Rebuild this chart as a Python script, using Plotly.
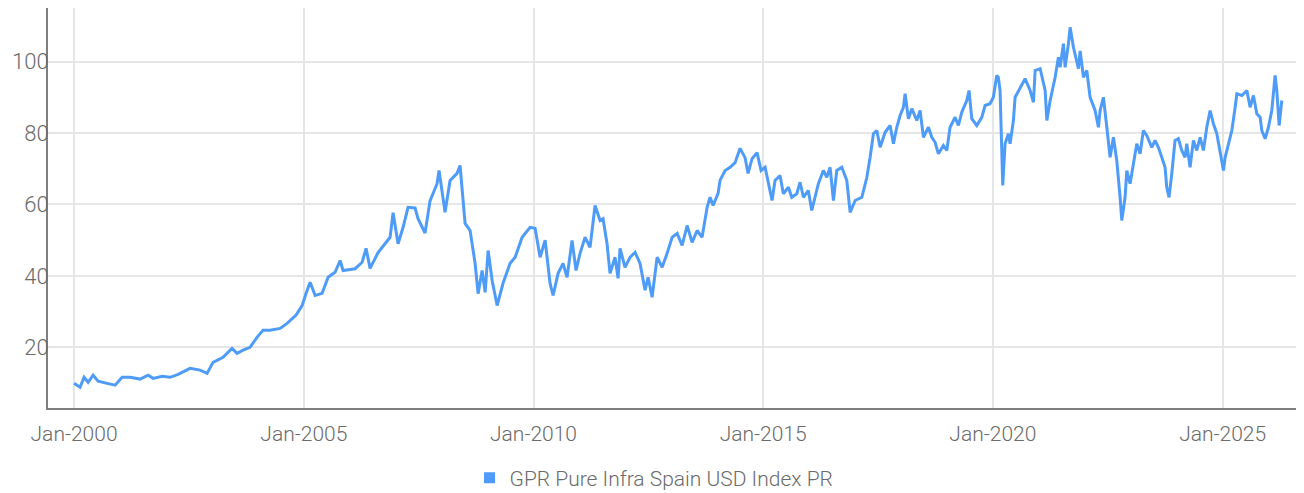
import pandas as pd
import plotly.graph_objects as go

# Decimal years (time) and index values
years_dec = [
    2000.000, 2000.131, 2000.218, 2000.305, 2000.414, 2000.522, 2000.718, 2000.892,
    2001.045, 2001.219, 2001.437, 2001.611, 2001.720, 2001.916,
    2002.090, 2002.264, 2002.525, 2002.743, 2002.895,
    2003.026, 2003.243, 2003.439, 2003.548, 2003.679, 2003.831, 2003.983,
    2004.114, 2004.266, 2004.484, 2004.636, 2004.832, 2004.963,
    2005.050, 2005.137, 2005.246, 2005.398, 2005.529, 2005.681, 2005.790, 2005.855,
    2006.117, 2006.269, 2006.356, 2006.443, 2006.617, 2006.879, 2006.944,
    2007.053, 2007.162, 2007.270, 2007.423, 2007.488, 2007.640, 2007.749, 2007.902, 2007.945,
    2008.076, 2008.185, 2008.337, 2008.402, 2008.511, 2008.620, 2008.729, 2008.794, 2008.881, 2008.947,
    2009.012, 2009.099, 2009.208, 2009.338, 2009.491, 2009.600, 2009.752, 2009.926,
    2010.035, 2010.144, 2010.253, 2010.361, 2010.427, 2010.536, 2010.644, 2010.731, 2010.840, 2010.927,
    2011.014, 2011.123, 2011.232, 2011.341, 2011.450, 2011.515, 2011.602, 2011.667, 2011.776, 2011.842, 2011.885, 2011.994,
    2012.103, 2012.212, 2012.320, 2012.429, 2012.495, 2012.582, 2012.691, 2012.800, 2012.908,
    2013.017, 2013.126, 2013.235, 2013.344, 2013.452, 2013.561, 2013.670, 2013.779, 2013.844, 2013.910,
    2014.018, 2014.062, 2014.171, 2014.280, 2014.388, 2014.497, 2014.606, 2014.671, 2014.758, 2014.867, 2014.955,
    2015.042, 2015.107, 2015.194, 2015.259, 2015.368, 2015.440, 2015.549, 2015.623, 2015.732, 2015.804, 2015.876, 2015.984,
    2016.058, 2016.202, 2016.311, 2016.385, 2016.457, 2016.529, 2016.602, 2016.711, 2016.820, 2016.892,
    2017.001, 2017.147, 2017.256, 2017.327, 2017.399, 2017.473, 2017.545, 2017.654, 2017.763, 2017.835, 2017.908, 2017.980,
    2018.052, 2018.089, 2018.161, 2018.235, 2018.344, 2018.416, 2018.488, 2018.597, 2018.671, 2018.742, 2018.814, 2018.923, 2018.997,
    2019.069, 2019.178, 2019.250, 2019.323, 2019.432, 2019.482, 2019.541, 2019.650, 2019.759, 2019.831, 2019.939,
    2020.011, 2020.085, 2020.120, 2020.157, 2020.194, 2020.216, 2020.266, 2020.338, 2020.375, 2020.447, 2020.484,
    2020.593, 2020.701, 2020.810, 2020.882, 2020.919,
    2021.028, 2021.137, 2021.174, 2021.246, 2021.354, 2021.426, 2021.463, 2021.535, 2021.572, 2021.644, 2021.681,
    2021.753, 2021.862, 2021.899, 2021.971,
    2022.044, 2022.116, 2022.225, 2022.297, 2022.334, 2022.406, 2022.480, 2022.552, 2022.624, 2022.697, 2022.769,
    2022.806, 2022.878, 2022.915, 2022.987,
    2023.059, 2023.133, 2023.205, 2023.276, 2023.350, 2023.459, 2023.531, 2023.603, 2023.677, 2023.749, 2023.786,
    2023.836, 2023.895, 2023.966,
    2024.039, 2024.112, 2024.184, 2024.221, 2024.293, 2024.365, 2024.439, 2024.511, 2024.583, 2024.656, 2024.728,
    2024.800, 2024.874, 2024.946,
    2025.018, 2025.055, 2025.127, 2025.201, 2025.273, 2025.310, 2025.419, 2025.528, 2025.599, 2025.671, 2025.745,
    2025.817, 2025.854, 2025.926, 2025.998,
    2026.071, 2026.143, 2026.180, 2026.231, 2026.289,
]

index_values = [
    9.9, 8.8, 11.6, 10.2, 12.2, 10.5, 9.9, 9.4,
    11.6, 11.6, 11.1, 12.2, 11.3, 11.9,
    11.6, 12.4, 14.1, 13.6, 12.7,
    15.8, 17.2, 19.7, 18.3, 19.2, 20.0, 22.8,
    24.8, 24.8, 25.3, 26.7, 29.0, 31.7,
    35.1, 38.2, 34.5, 35.1, 39.6, 41.0, 44.3, 41.5,
    42.0, 43.8, 47.7, 42.1, 46.5, 50.8, 57.7,
    49.0, 53.6, 59.2, 59.0, 56.0, 52.0, 61.0, 65.8, 69.5,
    57.8, 66.7, 68.7, 70.9, 54.7, 52.7, 43.5, 35.0, 41.5, 35.4,
    47.1, 38.7, 31.7, 38.0, 43.5, 45.2, 50.8, 53.6,
    53.3, 45.2, 50.0, 37.9, 34.5, 40.7, 43.5, 39.6, 49.9, 41.5,
    46.3, 50.8, 48.0, 59.7, 55.5, 56.0, 49.0, 40.7, 45.2, 39.3, 47.7, 42.4,
    45.2, 46.6, 43.5, 36.0, 39.6, 34.0, 45.2, 42.4, 46.3,
    50.8, 51.9, 48.5, 54.1, 49.4, 52.7, 50.8, 59.2, 62.0, 59.7,
    63.1, 66.8, 69.5, 70.4, 71.7, 75.7, 73.1, 68.7, 72.8, 74.5, 69.5,
    70.4, 66.8, 61.1, 66.7, 68.1, 63.0, 64.8, 62.0, 63.0, 66.2, 62.0, 63.9,
    58.3, 65.8, 69.5, 67.6, 70.4, 61.1, 69.5, 70.4, 66.7, 57.8,
    61.1, 62.0, 67.6, 73.2, 79.8, 80.7, 76.0, 80.2, 82.1, 77.0, 81.6, 84.9,
    87.2, 91.0, 84.0, 86.8, 83.5, 86.3, 78.8, 81.6, 78.8, 77.4, 74.2, 76.5, 75.1,
    81.6, 84.4, 82.1, 85.8, 89.1, 91.9, 84.0, 82.1, 84.4, 87.7, 88.2,
    90.0, 96.1, 95.6, 91.9, 77.0, 65.3, 77.0, 79.8, 77.0, 83.5, 90.0,
    92.8, 95.2, 91.9, 88.6, 97.5,
    98.0, 91.9, 83.5, 89.1, 95.6, 101.2, 98.4, 105.0, 98.4, 105.0, 109.6,
    104.0, 98.0, 103.0, 95.6,
    97.5, 90.0, 86.3, 81.6, 86.3, 90.0, 81.6, 73.2, 78.8, 72.3, 62.0,
    55.5, 62.0, 69.5, 65.8,
    71.4, 77.0, 74.2, 80.7, 79.3, 76.0, 77.9, 76.0, 73.2, 70.4, 64.8,
    62.0, 68.6, 77.9,
    78.4, 75.1, 73.2, 77.0, 70.4, 77.9, 75.1, 78.8, 75.1, 81.6, 86.3,
    82.6, 79.8, 75.1,
    69.5, 73.2, 77.0, 80.7, 87.2, 91.0, 90.5, 91.9, 87.2, 90.5, 85.4,
    84.4, 80.7, 78.4, 81.6,
    86.3, 96.1, 91.9, 82.1, 89.1,
]

tick_dates = ["2000-01-01", "2005-01-01", "2010-01-01", "2015-01-01", "2020-01-01", "2025-01-01"]
tick_labels = ["Jan-2000", "Jan-2005", "Jan-2010", "Jan-2015", "Jan-2020", "Jan-2025"]
y_ticks = [20, 40, 60, 80, 100]
series_name = "GPR Pure Infra Spain USD Index PR"


def dec_to_ts(t):
    yr = int(t)
    start = pd.Timestamp(year=yr, month=1, day=1)
    end = pd.Timestamp(year=yr + 1, month=1, day=1)
    return start + (end - start) * (t - yr)


dates = [dec_to_ts(t) for t in years_dec]

LINE = "#4e9cf8"
FONT = "Roboto"
GRAY_TXT = "#6b6b6b"

fig = go.Figure()
fig.add_trace(go.Scatter(
    x=dates, y=index_values, mode="lines",
    line=dict(color=LINE, width=3), showlegend=False, name=series_name,
))
fig.add_trace(go.Scatter(
    x=[None], y=[None], mode="markers",
    marker=dict(symbol="square", size=11, color=LINE),
    name=series_name, showlegend=True,
))

# the page body adds an 8px offset; margins compensate for it
fig.update_layout(
    width=1304, height=493,
    margin=dict(l=40, r=8, t=0, b=93),
    paper_bgcolor="white", plot_bgcolor="white",
    font=dict(family=FONT, size=21, color=GRAY_TXT, weight=300),
    legend=dict(orientation="h", x=0.4825, xanchor="center", y=-0.175, yanchor="middle",
                font=dict(family=FONT, size=21, color=GRAY_TXT, weight=300),
                itemwidth=30),
)
fig.update_xaxes(
    type="date",
    range=["1999-06-08", "2026-10-10"],
    tickvals=tick_dates, ticktext=tick_labels,
    showgrid=True, gridcolor="#e6e6e6", gridwidth=2,
    showline=True, linecolor="#7f7f7f", linewidth=2,
    ticks="outside", ticklen=6, tickcolor="rgba(0,0,0,0)",
    zeroline=False, automargin=False,
)
fig.update_yaxes(
    range=[3, 115],
    tickvals=y_ticks,
    showgrid=True, gridcolor="#e6e6e6", gridwidth=2,
    showline=True, linecolor="#7f7f7f", linewidth=2,
    ticks="", ticklabelstandoff=-7,
    tickfont=dict(size=22),
    zeroline=False, automargin=False,
)

fig.write_html("out.html")
